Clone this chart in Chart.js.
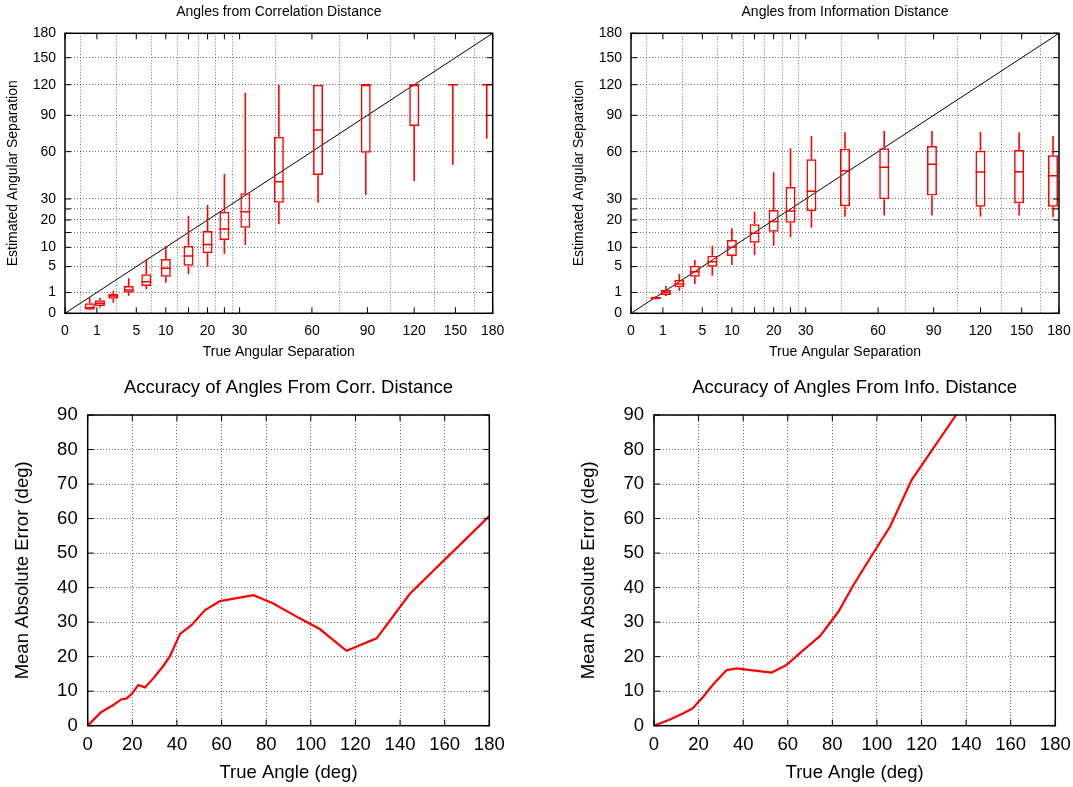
<!DOCTYPE html>
<html>
<head>
<meta charset="utf-8">
<title>Angles from distances</title>
<script src="https://cdn.jsdelivr.net/npm/chart.js@4.4.1/dist/chart.umd.min.js"></script>
<style>
  html, body { margin: 0; padding: 0; background: #fff; overflow: hidden; }
  body { position: relative; width: 1073px; height: 787px; }
  canvas { position: absolute; }
</style>
</head>
<body>
<canvas id="corrBox" width="536" height="365" style="left:0;top:0"></canvas>
<canvas id="infoBox" width="540" height="365" style="left:566px;top:0"></canvas>
<canvas id="corrErr" width="536" height="417" style="left:0;top:370px"></canvas>
<canvas id="infoErr" width="540" height="417" style="left:566px;top:370px"></canvas>
<script>
// true separations where the box plots sit (deg)
const sepAngles = [0.6, 1.2, 2.3, 4, 6.5, 10, 15, 20, 25, 32, 45, 63, 89, 120, 148, 175];
const angleTicks = [0, 1, 5, 10, 15, 20, 25, 30, 60, 90, 120, 150, 180];
const unlabeledTicks = [15, 25];

// correlation distance estimates
const corrMin = [0.02, 0.08, 0.26, 0.71, 1.32, 2.15, 3.49, 4.98, 8.1, 10.7, 18.2, 28.1, 32.1, 40.2, 50.5, 70];
const corrQ1  = [0.03, 0.12, 0.49, 0.98, 1.71, 3.08, 5.2, 8.27, 12.3, 16.8, 28.1, 43.9, 59.2, 80.5, 120, 120];
const corrMed = [0.08, 0.23, 0.69, 1.25, 2.29, 4.65, 7.54, 10.9, 16.3, 23.7, 39.8, 77.1, 120, 120, 120, 120];
const corrQ3  = [0.23, 0.39, 0.86, 1.71, 3.49, 6.77, 10.5, 15.55, 23.7, 33.1, 71.6, 120, 120, 120, 120, 120];
const corrMax = [0.56, 0.56, 1.17, 2.81, 6.77, 10.4, 21.9, 26.9, 44.5, 111.7, 120, 120, 120, 120, 120, 120];

// information distance estimates
const infoMin = [0.42, 0.69, 1.17, 1.97, 3.25, 5.36, 7.8, 10.5, 13.3, 16.8, 21.4, 22.0, 22.0, 21.4, 22.0, 21.2];
const infoQ1  = [0.45, 0.77, 1.55, 3.08, 4.98, 7.54, 11.4, 15.3, 18.8, 24, 26.3, 29.8, 31.8, 26.1, 27.8, 26.1];
const infoMed = [0.55, 1.01, 1.97, 3.97, 6.11, 10.0, 14.7, 19.3, 24.0, 34.2, 46.7, 48.9, 51, 45.8, 46.0, 43.5];
const infoQ3  = [0.63, 1.25, 2.55, 5.2, 7.62, 12.3, 18.2, 24.5, 36.6, 54.5, 62.2, 62.5, 64.3, 60.7, 61.2, 57.3];
const infoMax = [0.68, 1.71, 3.55, 6.52, 10.5, 16.6, 23.7, 45.6, 62.5, 72.2, 75.2, 76.3, 76.3, 75.5, 75.2, 72.2];

// mean absolute error curves
const corrErrAngle = [0, 6, 11.5, 15, 17.5, 20, 22.7, 25.7, 29.4, 33.9, 36.9, 41.4, 46.6, 52.6, 59.3, 74.3, 83.2, 95, 104, 116, 129.5, 144.5, 180];
const corrErrValue = [0, 3.9, 6, 7.6, 7.9, 9.4, 11.8, 11.1, 13.7, 17.3, 20.2, 26.6, 29.2, 33.5, 36.1, 37.8, 35.4, 31.1, 28, 21.7, 25.3, 38.3, 60.7];
const infoErrAngle = [0, 7.2, 13.2, 17.3, 22.1, 26.6, 32.6, 37.1, 46.1, 52.8, 59.5, 67, 74.5, 82.7, 89.4, 96.9, 105.9, 115.6, 135.5];
const infoErrValue = [0, 1.8, 3.6, 5.0, 8.4, 12.0, 16.1, 16.6, 15.9, 15.4, 17.6, 21.9, 26.0, 33.0, 40.7, 48.5, 57.7, 71.2, 90];

const RED = '#ff0000';
const GRID = 'rgba(0,0,0,0.55)';
Chart.defaults.font.family = '"Liberation Sans", Arial, Helvetica, sans-serif';
Chart.defaults.color = '#000';

// square-root axis, like gnuplot's sqrt-mapped angle axes
class SqrtScale extends Chart.LinearScale {
  static id = 'sqrt';
  getPixelForValue(value) {
    const lo = Math.sqrt(this.min), hi = Math.sqrt(this.max);
    return this.getPixelForDecimal((Math.sqrt(Math.max(value, 0)) - lo) / (hi - lo));
  }
  getValueForPixel(pixel) {
    const lo = Math.sqrt(this.min), hi = Math.sqrt(this.max);
    const v = lo + this.getDecimalForPixel(pixel) * (hi - lo);
    return v * v;
  }
}
Chart.register(SqrtScale);

// title centred over the plot area + frame with inward tick marks
const panelTitle = {
  id: 'panelTitle',
  afterDraw(chart, args, opts) {
    const { ctx, chartArea } = chart;
    ctx.save();
    ctx.font = opts.size + 'px ' + Chart.defaults.font.family;
    ctx.fillStyle = '#000';
    ctx.textAlign = 'center';
    ctx.textBaseline = 'middle';
    ctx.fillText(opts.text, (chartArea.left + chartArea.right) / 2, opts.y);
    ctx.restore();
  }
};
const frame = {
  id: 'frame',
  afterDatasetsDraw(chart) {
    const { ctx, chartArea: a, scales } = chart;
    ctx.save();
    ctx.strokeStyle = '#000';
    ctx.lineWidth = 1;
    ctx.beginPath();
    scales.x.ticks.forEach(t => {
      const px = scales.x.getPixelForValue(t.value);
      ctx.moveTo(px, a.bottom); ctx.lineTo(px, a.bottom - 6);
      ctx.moveTo(px, a.top); ctx.lineTo(px, a.top + 6);
    });
    scales.y.ticks.forEach(t => {
      const py = scales.y.getPixelForValue(t.value);
      ctx.moveTo(a.left, py); ctx.lineTo(a.left + 6, py);
      ctx.moveTo(a.right, py); ctx.lineTo(a.right - 6, py);
    });
    ctx.stroke();
    ctx.lineWidth = 1.5;
    ctx.strokeRect(a.left, a.top, a.right - a.left, a.bottom - a.top);
    ctx.restore();
  }
};

function angleAxis(title, fitSide, fitSize, tickPad, titlePad) {
  return {
    type: 'sqrt', min: 0, max: 180, stacked: false,
    afterBuildTicks: s => { s.ticks = angleTicks.map(v => ({ value: v })); },
    afterFit: s => { s[fitSide] = fitSize; },
    ticks: {
      font: { size: 14 }, padding: tickPad, autoSkip: false, maxRotation: 0,
      callback: v => unlabeledTicks.includes(v) ? '' : String(v)
    },
    grid: { color: GRID, drawTicks: false },
    border: { display: false, dash: [1, 2] },
    title: { display: true, text: title, font: { size: 14 }, padding: titlePad }
  };
}

function boxChart(id, title, rightPad, lo, q1, med, q3, hi) {
  const span = (a, b) => sepAngles.map((x, i) => ({ x: x, y: [a[i], b[i]] }));
  return new Chart(document.getElementById(id), {
    type: 'scatter',
    data: {
      datasets: [
        { type: 'bar', data: span(lo, q1), backgroundColor: RED, borderWidth: 0, barThickness: 1.6,
          inflateAmount: 0, grouped: false },
        { type: 'bar', data: span(q3, hi), backgroundColor: RED, borderWidth: 0, barThickness: 1.6,
          inflateAmount: 0, grouped: false },
        { type: 'bar', data: span(q1, q3), backgroundColor: 'rgba(0,0,0,0)', borderColor: RED,
          borderWidth: 1.5, borderSkipped: false, barThickness: 10, inflateAmount: 0, grouped: false },
        { data: sepAngles.map((x, i) => ({ x: x, y: med[i] })), pointStyle: 'line', pointRadius: 5,
          pointBorderWidth: 1.5, borderColor: RED, pointBorderColor: RED },
        { data: [{ x: 0, y: 0 }, { x: 180, y: 180 }], showLine: true, pointRadius: 0,
          borderColor: '#000', borderWidth: 1 }
      ]
    },
    options: {
      responsive: false, animation: false, events: [],
      layout: { padding: { top: 33.3, right: rightPad, bottom: 0, left: 0 } },
      plugins: {
        legend: { display: false }, tooltip: { enabled: false },
        panelTitle: { text: title, size: 14, y: 12 }
      },
      scales: {
        x: angleAxis('True Angular Separation', 'height', 51.7, 9, { bottom: 4 }),
        y: angleAxis('Estimated Angular Separation', 'width', 65, 9, { top: 4.6 })
      }
    },
    plugins: [panelTitle, frame]
  });
}

function errChart(id, title, rightPad, yAxisWidth, yTitlePad, angles, values) {
  return new Chart(document.getElementById(id), {
    type: 'scatter',
    data: {
      datasets: [{
        data: angles.map((x, i) => ({ x: x, y: values[i] })),
        showLine: true, pointRadius: 0, borderColor: RED, borderWidth: 2.2, tension: 0
      }]
    },
    options: {
      responsive: false, animation: false, events: [],
      layout: { padding: { top: 45, right: rightPad, bottom: 0, left: 0 } },
      plugins: {
        legend: { display: false }, tooltip: { enabled: false },
        panelTitle: { text: title, size: 18.5, y: 17.5 }
      },
      scales: {
        x: {
          type: 'linear', min: 0, max: 180,
          afterFit: s => { s.height = 61.3; },
          ticks: { stepSize: 20, font: { size: 18.5 }, padding: 8, maxRotation: 0, autoSkip: false },
          grid: { color: GRID, drawTicks: false },
          border: { display: false, dash: [1, 2] },
          title: { display: true, text: 'True Angle (deg)', font: { size: 18.5 }, padding: { bottom: 3 } }
        },
        y: {
          type: 'linear', min: 0, max: 90,
          afterFit: s => { s.width = yAxisWidth; },
          ticks: { stepSize: 10, font: { size: 18.5 }, padding: 10 },
          grid: { color: GRID, drawTicks: false },
          border: { display: false, dash: [1, 2] },
          title: { display: true, text: 'Mean Absolute Error (deg)', font: { size: 18.5 }, padding: { top: yTitlePad } }
        }
      }
    },
    plugins: [panelTitle, frame]
  });
}

boxChart('corrBox', 'Angles from Correlation Distance', 43.3, corrMin, corrQ1, corrMed, corrQ3, corrMax);
boxChart('infoBox', 'Angles from Information Distance', 47, infoMin, infoQ1, infoMed, infoQ3, infoMax);
errChart('corrErr', 'Accuracy of Angles From Corr. Distance', 46.7, 87.7, 11.4, corrErrAngle, corrErrValue);
errChart('infoErr', 'Accuracy of Angles From Info. Distance', 50.7, 88, 12, infoErrAngle, infoErrValue);
</script>
</body>
</html>
